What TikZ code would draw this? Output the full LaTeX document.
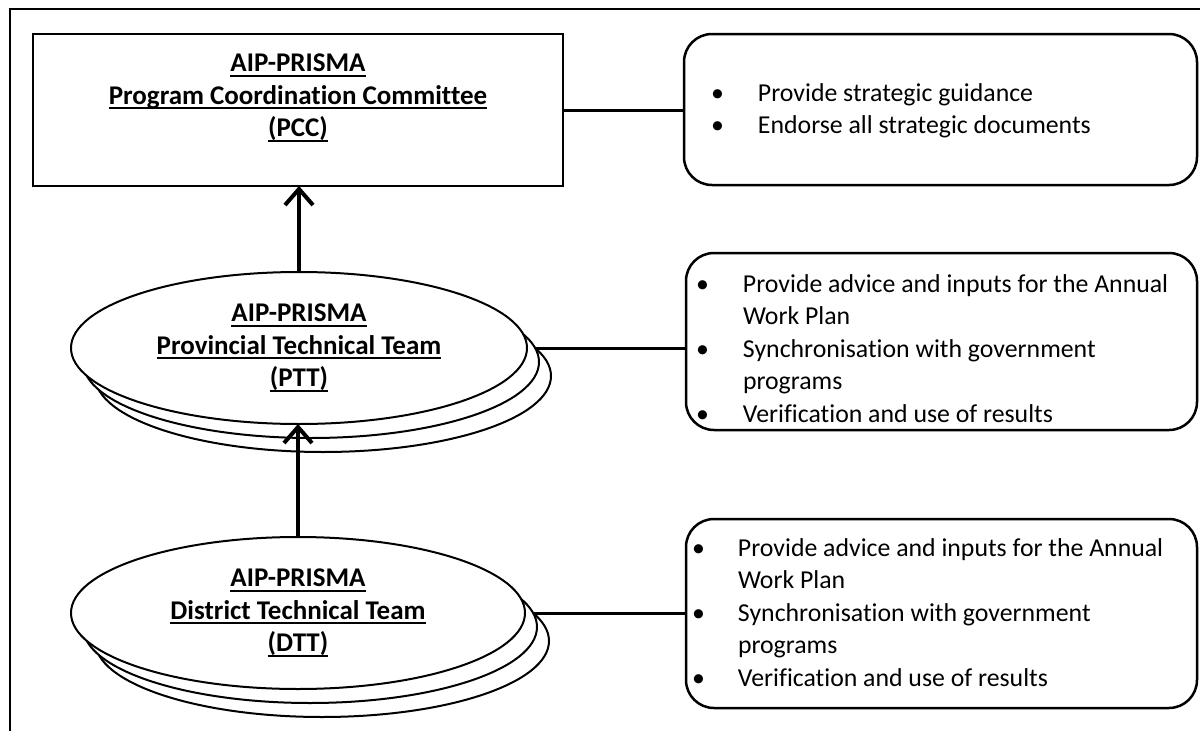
\documentclass[tikz,border=0pt]{standalone}
\usepackage{fontspec}
\setmainfont{Carlito}[Ligatures=NoCommon]
\usetikzlibrary{shapes.geometric,arrows.meta}
\pgfdeclarelayer{background}
\pgfsetlayers{background,main}
\newcommand{\hul}[1]{\setbox0=\hbox{#1}\rlap{\rule[-5pt]{\wd0}{2pt}}\box0}
\begin{document}
\begin{tikzpicture}[x=1pt,y=-1pt,
  every node/.style={inner sep=0pt, outer sep=0pt},
  frame/.style={line width=2pt},
  ov/.style={draw, line width=2pt, fill=white, ellipse, minimum width=456pt, minimum height=152pt},
  pccbox/.style={draw, line width=2.5pt, rectangle, anchor=north west},
  rbox/.style={draw, line width=2.5pt, rounded corners=28pt, rectangle, anchor=north west},
  conn/.style={line width=3pt},
  uparrow/.style={line width=4pt, -{Straight Barb[length=16pt,width=28pt,line width=4pt]}},
  hdr/.style={font=\fontsize{27}{32.5}\selectfont\bfseries, align=center},
  lst/.style={font=\fontsize{25.8}{32.5}\selectfont, anchor=west}
]
\useasboundingbox (0,0) rectangle (1200,731);
% outer frame (partial)
\draw[frame] (1200,9) -- (9.5,9) -- (9.5,731);

% PCC
\node[pccbox, minimum width=530pt, minimum height=152pt] (pcc) at (33,34) {};
\node[hdr] (pcctxt) at (298,98) {\hul{AIP-PRISMA}\\ \hul{Program Coordination Committee}\\ \hul{(PCC)}};

% right boxes
\node[rbox, minimum width=513pt, minimum height=151pt] (b1) at (684,34) {};
\node[rbox, minimum width=511pt, minimum height=177pt] (b2) at (686,253) {};
\node[rbox, minimum width=511pt, minimum height=189pt] (b3) at (686,519) {};

\node[lst] (t1) at (711,111) {\begin{tabular}{@{}p{47pt}@{}l@{}}
\textbullet & Provide strategic guidance\\
\textbullet & Endorse all strategic documents
\end{tabular}};
\node[lst] (t2) at (696,350.5) {\begin{tabular}{@{}p{47pt}@{}l@{}}
\textbullet & Provide advice and inputs for the Annual\\
 & Work Plan\\
\textbullet & Synchronisation with government\\
 & programs\\
\textbullet & Verification and use of results
\end{tabular}};
\node[lst] (t3) at (692,614.5) {\begin{tabular}{@{}p{46pt}@{}l@{}}
\textbullet & Provide advice and inputs for the Annual\\
 & Work Plan\\
\textbullet & Synchronisation with government\\
 & programs\\
\textbullet & Verification and use of results
\end{tabular}};

% PTT stack
\node[ov] (ptt3) at (323,376) {};
\node[ov] (ptt2) at (311,362) {};
\node[ov, hdr] (ptt) at (299,348) {\hul{AIP-PRISMA}\\ \hul{Provincial Technical Team}\\ \hul{(PTT)}};

% DTT stack
\node[ov, minimum width=454pt] (dtt3) at (322,641) {};
\node[ov, minimum width=454pt] (dtt2) at (310,627) {};
\node[ov, hdr, minimum width=454pt] (dtt) at (298,613) {\hul{AIP-PRISMA}\\ \hul{District Technical Team}\\ \hul{(DTT)}};

% connectors
\begin{pgfonlayer}{background}
\draw[conn] (pcc.east) -- (pcc.east -| b1.west);
\draw[conn] (ptt.east) -- (ptt.east -| b2.west);
\draw[conn] (dtt.east) -- (dtt.east -| b3.west);
\end{pgfonlayer}
\draw[uparrow] (ptt.north) -- (ptt.north |- pcc.south);
\draw[uparrow] (dtt.north) -- (dtt.north |- ptt.south);
\end{tikzpicture}
\end{document}
